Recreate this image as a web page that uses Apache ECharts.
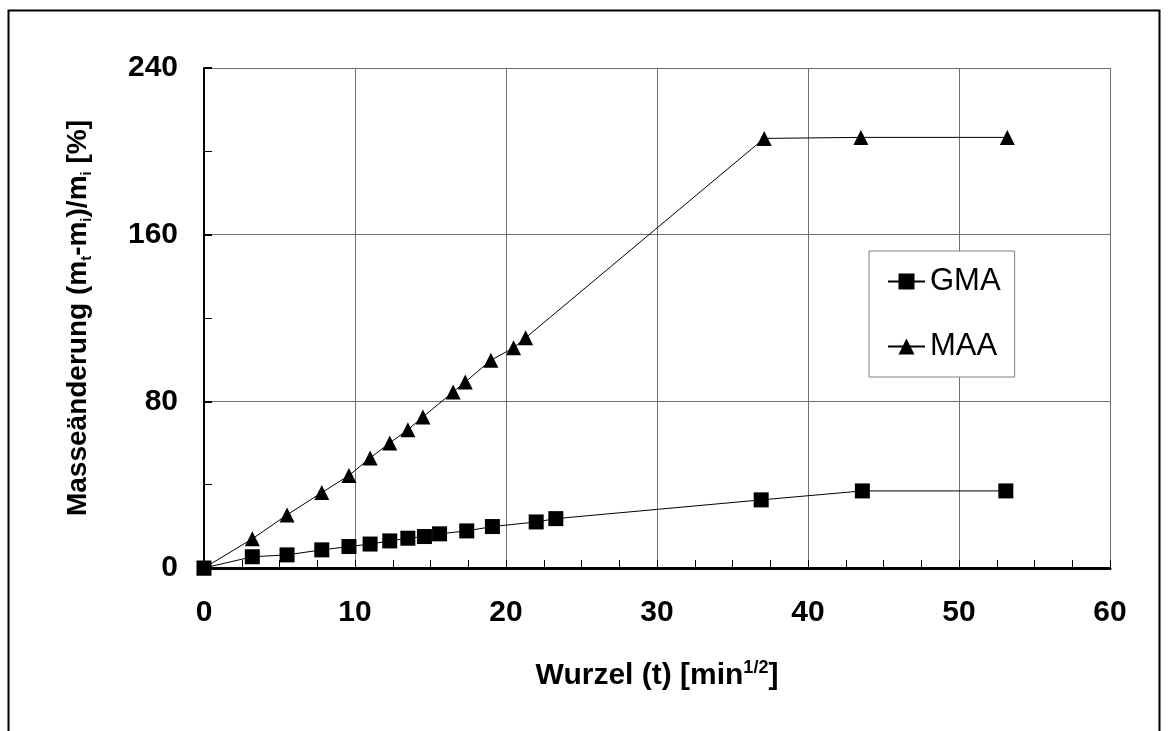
<!DOCTYPE html>
<html>
<head>
<meta charset="utf-8">
<script src="https://cdn.jsdelivr.net/npm/echarts@6/dist/echarts.min.js"></script>
<style>
html,body{margin:0;padding:0;background:#fff;}
#chart{width:1170px;height:731px;}
</style>
</head>
<body>
<div id="chart"></div>
<script>
// Data
const gmaX = [0, 3.2, 5.5, 7.8, 9.6, 11.0, 12.3, 13.5, 14.6, 15.6, 17.4, 19.1, 22.0, 23.3, 36.9, 43.6, 53.1];
const gmaY = [0, 5.4, 6.3, 8.7, 10.3, 11.5, 13.0, 14.3, 15.1, 16.4, 17.8, 19.9, 22.1, 23.7, 32.7, 37.0, 37.0];
const maaX = [0, 3.2, 5.5, 7.8, 9.6, 11.0, 12.3, 13.5, 14.5, 16.5, 17.3, 19.0, 20.5, 21.3, 37.1, 43.5, 53.2];
const maaY = [0, 14.0, 25.5, 36.2, 44.4, 52.8, 60.0, 66.4, 72.5, 84.5, 89.3, 99.7, 105.7, 110.5, 206.2, 206.7, 206.7];
const seriesNames = ['GMA', 'MAA'];
const xTicks = [0, 10, 20, 30, 40, 50, 60];
const yTicks = [0, 80, 160, 240];

const FONT = '"Liberation Sans", Arial, sans-serif';
const chart = echarts.init(document.getElementById('chart'), null, {renderer: 'canvas'});

function pairs(xs, ys) { return xs.map((x, i) => [x, ys[i]]); }

const option = {
  backgroundColor: '#ffffff',
  animation: false,
  textStyle: {fontFamily: FONT},
  graphic: [{
    type: 'rect',
    shape: {x: 8.5, y: 10.5, width: 1151, height: 740},
    style: {fill: 'none', stroke: '#000', lineWidth: 2},
    silent: true
  }],
  grid: {left: 204, right: 60, top: 68, bottom: 163, containLabel: false},
  legend: {
    orient: 'vertical',
    left: 869, top: 251,
    padding: [13, 14, 13, 18],
    itemGap: 30,
    itemWidth: 37, itemHeight: 20,
    backgroundColor: '#ffffff',
    borderColor: '#808080', borderWidth: 1,
    textStyle: {fontFamily: FONT, fontSize: 31, color: '#000', lineHeight: 35},
    data: seriesNames
  },
  xAxis: {
    type: 'value',
    min: xTicks[0], max: xTicks[xTicks.length - 1], interval: 10,
    name: '{b|Wurzel (t) [min}{sup|1/2}{b|]}',
    nameLocation: 'middle',
    nameGap: 91,
    nameTextStyle: {
      rich: {
        b: {fontFamily: FONT, fontSize: 30, fontWeight: 'bold', color: '#000', lineHeight: 34},
        sup: {fontFamily: FONT, fontSize: 18, fontWeight: 'bold', color: '#000', verticalAlign: 'top', lineHeight: 10}
      }
    },
    axisLine: {show: true, onZero: false, lineStyle: {color: '#000', width: 3}},
    axisTick: {show: true, inside: true, length: 8, lineStyle: {color: '#000', width: 1}},
    minorTick: {show: true, splitNumber: 4, length: 8, lineStyle: {color: '#000', width: 1}},
    axisLabel: {fontFamily: FONT, fontSize: 30, fontWeight: 'bold', color: '#000', margin: 30,
      formatter: v => xTicks.includes(v) ? String(v) : ''},
    splitLine: {show: true, lineStyle: {color: '#707070', width: 1}}
  },
  yAxis: {
    type: 'value',
    min: yTicks[0], max: yTicks[yTicks.length - 1], interval: 80,
    name: '{b|Masseänderung (m}{sub|t}{b|-m}{sub|i}{b|)/m}{sub|i}{b| [%]}',
    nameLocation: 'middle',
    nameRotate: 90,
    nameGap: 110,
    nameTextStyle: {
      rich: {
        b: {fontFamily: FONT, fontSize: 28, fontWeight: 'bold', color: '#000', lineHeight: 32},
        sub: {fontFamily: FONT, fontSize: 15, fontWeight: 'bold', color: '#000', verticalAlign: 'bottom', lineHeight: 14}
      }
    },
    axisLine: {show: true, onZero: false, lineStyle: {color: '#000', width: 2}},
    axisTick: {show: true, inside: true, length: 8, lineStyle: {color: '#000', width: 2}},
    minorTick: {show: true, splitNumber: 2, length: 8, lineStyle: {color: '#000', width: 1}},
    axisLabel: {fontFamily: FONT, fontSize: 30, fontWeight: 'bold', color: '#000', margin: 26,
      formatter: v => yTicks.includes(v) ? String(v) : ''},
    splitLine: {show: true, lineStyle: {color: '#707070', width: 1}}
  },
  series: [
    {
      name: seriesNames[0], type: 'line',
      data: pairs(gmaX, gmaY),
      symbol: 'rect', symbolSize: 15,
      itemStyle: {color: '#000'},
      lineStyle: {color: '#000', width: 1},
      z: 3
    },
    {
      name: seriesNames[1], type: 'line',
      data: pairs(maaX, maaY),
      symbol: 'triangle', symbolSize: 15,
      itemStyle: {color: '#000'},
      lineStyle: {color: '#000', width: 1},
      z: 3
    }
  ]
};
chart.setOption(option);
</script>
</body>
</html>
